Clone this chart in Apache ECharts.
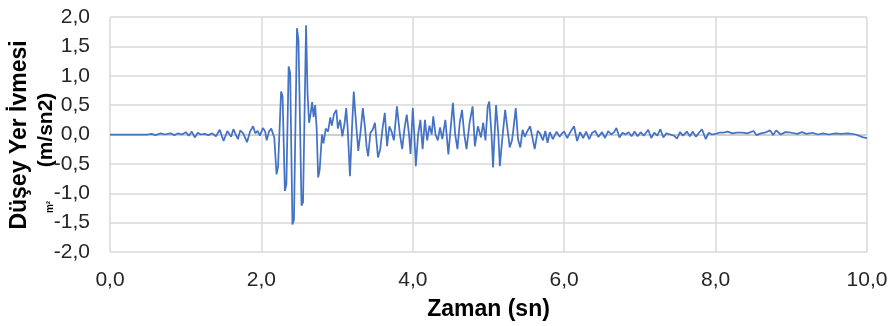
<!DOCTYPE html>
<html>
<head>
<meta charset="utf-8">
<script src="https://cdn.jsdelivr.net/npm/echarts@6/dist/echarts.min.js"></script>
<style>
  html, body { margin: 0; padding: 0; background: #fff; }
  #chart { width: 894px; height: 326px; }
</style>
</head>
<body>
<div id="chart"></div>
<script>
// zaman (sn)
var times = [
    0, 0.5, 0.55, 0.6, 0.67, 0.72, 0.8, 0.85, 0.9, 0.95,
    1.0, 1.04, 1.08, 1.12, 1.16, 1.2, 1.25, 1.3, 1.35, 1.4,
    1.45, 1.5, 1.55, 1.6, 1.63, 1.66, 1.69, 1.72, 1.76, 1.81,
    1.85, 1.89, 1.92, 1.95, 1.98, 2.02, 2.05, 2.07, 2.1, 2.13,
    2.15, 2.17, 2.2, 2.22, 2.26, 2.28, 2.31, 2.33, 2.36, 2.38,
    2.41, 2.43, 2.47, 2.49, 2.53, 2.55, 2.59, 2.61, 2.63, 2.65,
    2.67, 2.69, 2.71, 2.73, 2.75, 2.77, 2.8, 2.82, 2.85, 2.88,
    2.91, 2.93, 2.96, 2.99, 3.01, 3.04, 3.07, 3.1, 3.12, 3.14,
    3.17, 3.2, 3.22, 3.25, 3.28, 3.31, 3.34, 3.37, 3.39, 3.41,
    3.44, 3.47, 3.5, 3.54, 3.57, 3.6, 3.63, 3.66, 3.69, 3.72,
    3.75, 3.79, 3.83, 3.86, 3.89, 3.92, 3.95, 3.97, 4.0, 4.02,
    4.04, 4.07, 4.1, 4.13, 4.16, 4.19, 4.22, 4.25, 4.27, 4.3,
    4.33, 4.36, 4.39, 4.43, 4.47, 4.5, 4.53, 4.56, 4.59, 4.62,
    4.65, 4.68, 4.71, 4.75, 4.79, 4.82, 4.86, 4.9, 4.93, 4.96,
    4.99, 5.01, 5.04, 5.06, 5.08, 5.1, 5.13, 5.15, 5.18, 5.22,
    5.25, 5.28, 5.31, 5.33, 5.36, 5.39, 5.42, 5.45, 5.48, 5.51,
    5.55, 5.58, 5.61, 5.65, 5.68, 5.72, 5.75, 5.78, 5.81, 5.85,
    5.9, 5.94, 5.97, 6.0, 6.04, 6.08, 6.13, 6.17, 6.21, 6.25,
    6.29, 6.33, 6.37, 6.41, 6.45, 6.5, 6.54, 6.58, 6.62, 6.66,
    6.69, 6.73, 6.77, 6.81, 6.85, 6.89, 6.93, 6.97, 7.01, 7.05,
    7.11, 7.15, 7.19, 7.23, 7.27, 7.31, 7.35, 7.4, 7.45, 7.49,
    7.53, 7.57, 7.62, 7.66, 7.7, 7.74, 7.78, 7.82, 7.87, 7.91,
    7.95, 8.0, 8.05, 8.1, 8.16, 8.22, 8.28, 8.35, 8.42, 8.5,
    8.54, 8.6, 8.65, 8.72, 8.76, 8.8, 8.86, 8.92, 9.0, 9.08,
    9.14, 9.2, 9.28, 9.35, 9.42, 9.5, 9.58, 9.66, 9.75, 9.85,
    9.95, 10.0
];

// düşey yer ivmesi (m/sn2)
var accel = [
    0, 0, 0.01, -0.01, 0.02, 0.0, 0.02, -0.01, 0.02, 0.0,
    0.04, -0.02, 0.05, -0.05, 0.03, 0.0, 0.01, -0.01, 0.02, -0.03,
    0.08, -0.11, 0.06, -0.04, 0.09, 0.0, -0.08, 0.07, 0.02, -0.13,
    0.05, 0.14, 0.02, 0.06, -0.02, 0.11, 0.05, -0.1, 0.05, 0.1,
    0.11, -0.05, -0.68, -0.55, 0.73, 0.65, -0.96, -0.85, 1.16, 1.05,
    -1.53, -1.45, 1.81, 1.6, -1.21, -1.15, 1.86, 0.69, 0.2, 0.35,
    0.55, 0.3, 0.5, 0.1, -0.73, -0.6, 0.0, -0.15, 0.1, 0.05,
    0.29, 0.15, 0.35, 0.42, 0.1, 0.25, -0.03, 0.2, 0.45, 0.1,
    -0.71, 0.2, 0.73, 0.2, -0.28, 0.05, 0.45, 0.1, -0.22, -0.37,
    0.03, 0.08, 0.2, -0.39, -0.25, 0.1, 0.37, -0.2, 0.14, 0.05,
    -0.1, 0.48, 0.0, -0.25, 0.1, 0.34, 0.0, -0.33, 0.45, 0.0,
    -0.54, 0.0, 0.25, -0.25, 0.25, -0.1, 0.15, 0.0, 0.31, 0.0,
    -0.1, 0.12, -0.08, 0.25, -0.34, 0.1, 0.54, 0.0, -0.25, 0.2,
    0.42, 0.0, -0.25, 0.2, 0.48, -0.2, 0.14, -0.05, 0.2, -0.1,
    0.48, 0.56, 0.0, -0.56, 0.0, 0.5, 0.0, -0.54, -0.1, 0.42,
    0.1, -0.22, -0.1, 0.1, 0.45, -0.08, -0.22, 0.08, -0.04, 0.05,
    0.14, -0.05, -0.25, 0.06, 0.02, -0.1, 0.06, -0.14, 0.04, -0.08,
    0.05, -0.04, 0.02, 0.05, -0.06, 0.04, 0.14, -0.11, 0.04, -0.06,
    0.05, -0.08, 0.03, 0.06, -0.04, 0.04, -0.06, 0.06, 0.0, 0.04,
    0.11, -0.05, 0.03, 0.0, 0.04, -0.03, 0.05, -0.03, 0.04, -0.02,
    0.08, -0.06, 0.03, -0.02, 0.09, -0.05, 0.02, 0.0, -0.02, -0.07,
    0.04, -0.02, 0.05, -0.03, 0.05, -0.04, 0.03, 0.09, -0.08, 0.03,
    0.0, 0.01, 0.03, 0.03, 0.05, 0.02, 0.03, 0.03, 0.02, 0.06,
    -0.01, 0.02, 0.03, 0.07, -0.01, 0.07, 0.0, 0.04, 0.03, 0.01,
    0.04, 0.01, 0.03, 0.0, 0.02, 0.0, 0.02, 0.01, 0.02, 0.0,
    -0.05, -0.06
];

var xTicks = [0, 2, 4, 6, 8, 10];
var yTicks = [-2, -1.5, -1, -0.5, 0, 0.5, 1, 1.5, 2];

var dom = document.getElementById('chart');
var chart = echarts.init(dom, null, { renderer: 'canvas' });

var seriesData = times.map(function (t, i) { return [t, accel[i]]; });

function commaFmt(v) {
    return v.toFixed(1).replace('.', ',');
}

// zero line a bit darker than the rest, like excel's horizontal axis
var hLineColors = yTicks.map(function (v) { return v === 0 ? '#BFBFBF' : '#D9D9D9'; });

var option = {
    animation: false,
    backgroundColor: '#ffffff',
    grid: { left: 110, right: 27, top: 17, bottom: 73 },
    xAxis: {
        type: 'value',
        min: xTicks[0],
        max: xTicks[xTicks.length - 1],
        interval: 2,
        name: 'Zaman (sn)',
        nameLocation: 'middle',
        nameGap: 46,
        nameTextStyle: { fontFamily: 'Liberation Sans', fontSize: 23, fontWeight: 'bold', color: '#000' },
        axisLine: { show: false },
        axisTick: { show: false },
        axisLabel: {
            formatter: commaFmt,
            fontFamily: 'Liberation Sans',
            fontSize: 21,
            color: '#262626',
            margin: 18
        },
        splitLine: { show: true, lineStyle: { color: '#D9D9D9', width: 1.5 } }
    },
    yAxis: {
        type: 'value',
        min: yTicks[0],
        max: yTicks[yTicks.length - 1],
        interval: 0.5,
        axisLine: { show: false },
        axisTick: { show: false },
        axisLabel: {
            formatter: commaFmt,
            fontFamily: 'Liberation Sans',
            fontSize: 21,
            color: '#262626',
            margin: 20
        },
        splitLine: { show: true, lineStyle: { color: hLineColors, width: 1.5 } }
    },
    graphic: [
        {
            type: 'text',
            x: 20, y: 135,
            rotation: Math.PI / 2,
            style: {
                text: 'Düşey Yer İvmesi',
                fontFamily: 'Liberation Sans',
                fontSize: 23,
                fontWeight: 'bold',
                fill: '#000',
                align: 'center',
                verticalAlign: 'middle'
            }
        },
        {
            type: 'text',
            x: 46, y: 130,
            rotation: Math.PI / 2,
            style: {
                text: '(m/sn2)',
                fontFamily: 'Liberation Sans',
                fontSize: 21,
                fontWeight: 'bold',
                fill: '#000',
                align: 'center',
                verticalAlign: 'middle'
            }
        },
        {
            type: 'text',
            x: 50, y: 207,
            rotation: Math.PI / 2,
            style: {
                text: 'm²',
                fontFamily: 'Liberation Sans',
                fontSize: 10,
                fontWeight: 'bold',
                fill: '#000',
                align: 'center',
                verticalAlign: 'middle'
            }
        }
    ],
    series: [
        {
            name: 'Düşey Yer İvmesi',
            type: 'line',
            data: seriesData,
            showSymbol: false,
            smooth: false,
            lineStyle: { color: '#4472C4', width: 1.75 }
        }
    ]
};

chart.setOption(option);
window.addEventListener('resize', chart.resize);
</script>
</body>
</html>
